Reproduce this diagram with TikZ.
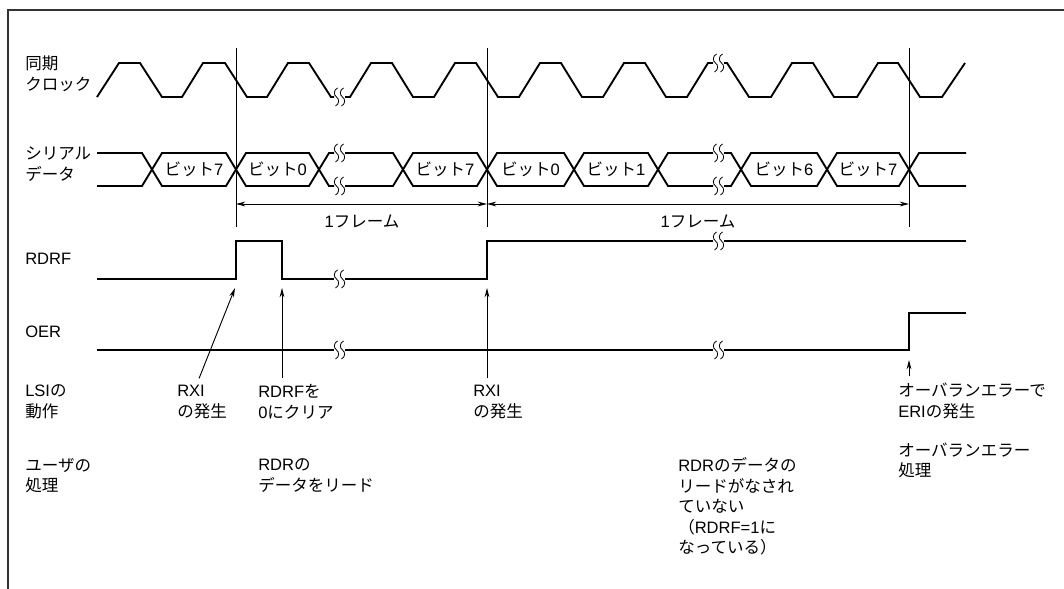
\documentclass[tikz,border=0pt]{standalone}
\usepackage{fontspec}
\setmainfont{Liberation Sans}
\newfontfamily\jafont{Noto Sans CJK JP}
\usetikzlibrary{arrows.meta}

% switch to the Japanese font for kana, kanji and full-width signs
\XeTeXinterchartokenstate=1
\newXeTeXintercharclass\jaclass
\newcount\jacode
\newcommand{\setjarange}[2]{\jacode=#1 \loop\XeTeXcharclass\jacode=\jaclass
  \ifnum\jacode<#2 \advance\jacode by 1 \repeat}
\setjarange{"3000}{"30FF}
\setjarange{"4E00}{"9FFF}
\setjarange{"FF00}{"FFEF}
\XeTeXinterchartoks 0 \jaclass = {\jafont}
\XeTeXinterchartoks 4095 \jaclass = {\jafont}
\XeTeXinterchartoks \jaclass 0 = {\rmfamily}
\XeTeXinterchartoks 4095 0 = {\rmfamily}

\tikzset{
  sig/.style={line width=1.4pt},
  guide/.style={line width=0.7pt},
  cut/.style={line width=0.6pt},
  lbl/.style={anchor=west, align=left, inner xsep=0pt, inner ysep=5pt,
    font=\fontsize{12.4}{15.4}\selectfont},
  bitlbl/.style={inner sep=0pt, font=\fontsize{12.4}{15.4}\selectfont},
}

% two wavy strokes where a waveform is cut
\newcommand{\cutmark}[2]{%
  \foreach \dx in {-3,3}{%
    \draw[cut] (#1+\dx+1,#2-9) .. controls (#1+\dx-3,#2-7) and (#1+\dx-3,#2-2) .. (#1+\dx,#2)
      .. controls (#1+\dx+3,#2+2) and (#1+\dx+3,#2+7) .. (#1+\dx-1,#2+9);
  }%
}

\begin{document}
\begin{tikzpicture}[x=0.75pt, y=-0.75pt, >={Stealth[length=7pt,width=3.6pt]}]
        \useasboundingbox (0,0) rectangle (1064,589);
        \draw[line width=1pt, black!80] (8,589) -- (8,10) -- (1064,10);

        % ===== signal names =====
        \node[lbl] (nClk) at (25,74) {同期\\クロック};
        \node[lbl] (nSer) at (25,164) {シリアル\\データ};
        \node[lbl] (nRdrf) at (25,259) {RDRF};
        \node[lbl] (nOer) at (25,332) {OER};

        % ===== clock =====
        \def\hi{63} \def\lo{97}
        \draw[sig] (97,\lo) -- (119,\hi) -- (140,\hi) -- (162,\lo) -- (182,\lo) -- (203,\hi)
            -- (225,\hi) -- (247,\lo) -- (267,\lo) -- (288,\hi) -- (309,\hi) -- (331,\lo) -- (334,\lo);
        \draw[sig] (345,\lo) -- (350,\lo) -- (371,\hi) -- (392,\hi) -- (413,\lo) -- (434,\lo)
            -- (455,\hi) -- (476,\hi) -- (498,\lo) -- (519,\lo) -- (540,\hi) -- (561,\hi)
            -- (582,\lo) -- (603,\lo) -- (624,\hi) -- (645,\hi) -- (666,\lo) -- (687,\lo)
            -- (708,\hi) -- (713,\hi);
        \draw[sig] (724,\hi) -- (727,\hi) -- (749,\lo) -- (771,\lo) -- (792,\hi) -- (813,\hi)
            -- (834,\lo) -- (857,\lo) -- (878,\hi) -- (898,\hi) -- (920,\lo) -- (942,\lo) -- (965,\hi);
        \cutmark{339.5}{\lo}
        \cutmark{718.5}{\hi}

        % ===== serial data =====
        \def\up{153} \def\dn{186} \def\ym{169.5}
        \foreach \a/\b/\k in {152/236/7, 236/319/0, 403/487/7, 487/574/0, 574/658/1, 741/827/6, 827/909/7}{
            \draw[sig] (\a,\ym) -- (\a+10,\up) -- (\b-10,\up) -- (\b,\ym) -- (\b-10,\dn) -- (\a+10,\dn) -- cycle;
            \node[bitlbl] (bit\a) at ({(\a+\b)/2},\ym) {ビット\k};
        }
        \draw[sig] (97,\up) -- (142,\up) -- (152,\ym) -- (142,\dn) -- (97,\dn);
        \draw[sig] (334,\up) -- (329,\up) -- (319,\ym) -- (329,\dn) -- (334,\dn);
        \draw[sig] (345,\up) -- (393,\up) -- (403,\ym) -- (393,\dn) -- (345,\dn);
        \draw[sig] (713,\up) -- (668,\up) -- (658,\ym) -- (668,\dn) -- (713,\dn);
        \draw[sig] (724,\up) -- (731,\up) -- (741,\ym) -- (731,\dn) -- (724,\dn);
        \draw[sig] (966,\up) -- (919,\up) -- (909,\ym) -- (919,\dn) -- (966,\dn);
        \cutmark{339.5}{\up} \cutmark{339.5}{\dn}
        \cutmark{718.5}{\up} \cutmark{718.5}{\dn}

        % ===== frame marks =====
        \foreach \x [count=\i] in {236,487,909}{
            \draw[guide] (\x,48) -- (\x,227);
            \coordinate (g\i) at (\x,204);
        }
        \draw[guide,<->] (g1) -- (g2);
        \draw[guide,<->] (g2) -- (g3);
        \node[bitlbl] (frm1) at (362,221) {1フレーム};
        \node[bitlbl] (frm2) at (698,221) {1フレーム};

        % ===== RDRF / OER =====
        \draw[sig] (97,279) -- (236,279) -- (236,241) -- (282,241) -- (282,279) -- (334,279);
        \draw[sig] (345,279) -- (487,279) -- (487,241) -- (713,241);
        \draw[sig] (724,241) -- (966,241);
        \cutmark{339.5}{279} \cutmark{718.5}{241}

        \draw[sig] (97,350) -- (334,350);
        \draw[sig] (345,350) -- (713,350);
        \draw[sig] (724,350) -- (909,350) -- (909,313) -- (966,313);
        \cutmark{339.5}{350} \cutmark{718.5}{350}

        % ===== LSI / user =====
        \node[lbl] (lsi) at (25,402) {LSIの\\動作};
        \node[lbl] (rxiA) at (177,402) {RXI\\の発生};
        \node[lbl] (clr) at (258,402) {RDRFを\\0にクリア};
        \node[lbl] (rxiB) at (473,402) {RXI\\の発生};
        \node[lbl] (eri) at (898,401) {オーバランエラーで\\ERIの発生};

        \node[lbl] (usr) at (25,475.5) {ユーザの\\処理};
        \node[lbl] (rdr) at (258,475.5) {RDRの\\データをリード};
        \node[lbl] (nord) at (678,506.5) {RDRのデータの\\リードがなされ\\ていない\\（RDRF=1に\\なっている）};
        \node[lbl] (ovr) at (898,460.5) {オーバランエラー\\処理};

        \coordinate (rxiAtip) at (235,288);
        \coordinate (clrTip) at (282,288);
        \coordinate (rxiBtip) at (487,288);
        \coordinate (eriTip) at (909,360);
        \draw[guide,->] ([xshift=-2.25pt]rxiA.north) -- (rxiAtip);
        \draw[guide,->] (clrTip |- clr.north) -- (clrTip);
        \draw[guide,->] (rxiBtip |- rxiB.north) -- (rxiBtip);
        \draw[guide,->] (eriTip |- eri.north) -- (eriTip);
\end{tikzpicture}
\end{document}
